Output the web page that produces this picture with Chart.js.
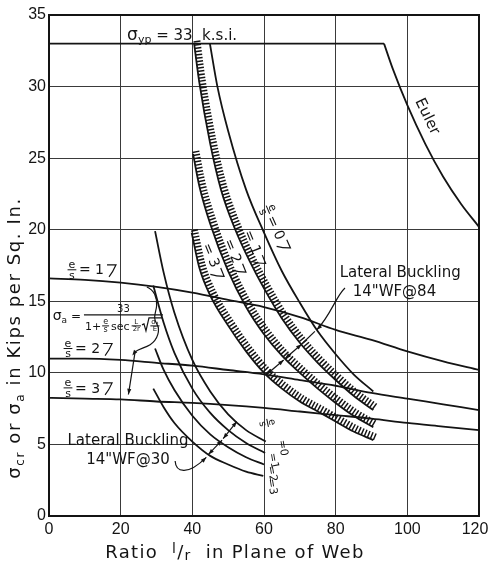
<!DOCTYPE html>
<html>
<head>
  <title>Column strength - σcr or σa vs l/r</title>
  <script src="https://cdn.jsdelivr.net/npm/chart.js"></script>
  <style>
    body { margin: 0; background-color: #fff; }
    canvas { display: block; }
  </style>
</head>
<body>
  <canvas id="colChart" width="488" height="563"></canvas>
  <script>
    // axis ticks
    const xTicks = [0, 20, 40, 60, 80, 100, 120];
    const yTicks = [0, 5, 10, 15, 20, 25, 30, 35];

    // secant formula curves, read at every 10 of l/r
    const slendX = [0, 10, 20, 30, 40, 50, 60, 70, 80, 90, 100, 110, 120];
    const secantE1 = [16.6, 16.5, 16.3, 16.0, 15.6, 15.1, 14.6, 13.9, 13.0, 12.3, 11.5, 10.8, 10.2];
    const secantE2 = [11.0, 11.0, 10.9, 10.7, 10.5, 10.2, 9.9, 9.5, 9.1, 8.6, 8.2, 7.8, 7.4];
    const secantE3 = [8.25, 8.2, 8.15, 8.0, 7.9, 7.75, 7.55, 7.3, 7.05, 6.8, 6.5, 6.25, 6.0];

    // yield stress and Euler curve [l/r, ksi]
    const yieldLine = [[0, 33], [93.5, 33]];
    const euler = [[93.5, 33], [96, 31.2], [100, 28.7], [105, 26.0], [110, 23.7], [115, 21.8], [120, 20.2]];

    // lateral buckling 14" WF @ 84, e/s = 0..3 (1..3 are hatched bands)
    const wf84e0 = [[44.9, 33], [47, 30.0], [50, 26.9], [55, 22.8], [60, 19.8], [65, 17.1], [70, 14.9], [75, 12.9], [80, 11.3], [85, 9.9], [90.5, 8.7]];
    const wf84e1 = [[40.5, 33], [42, 30.2], [45, 26.0], [48, 22.8], [52, 20.0], [56, 17.8], [60, 15.9], [65, 13.8], [70, 12.1], [75, 10.7], [80, 9.5], [85, 8.4], [90.5, 7.4]];
    const wf84e2 = [[40.2, 25.3], [42, 23.0], [45, 20.4], [50, 17.1], [55, 14.6], [60, 12.7], [65, 11.2], [70, 10.0], [75, 8.9], [80, 7.9], [85, 7.0], [90.5, 6.2]];
    const wf84e3 = [[39.8, 19.8], [42, 17.3], [45, 15.4], [50, 13.3], [55, 11.5], [60, 10.0], [65, 8.9], [70, 8.0], [75, 7.3], [80, 6.6], [85, 5.9], [90.5, 5.3]];

    // lateral buckling 14" WF @ 30, e/s = 0..3
    const wf30e0 = [[29.6, 19.9], [32, 17.0], [35, 14.2], [40, 10.9], [45, 8.7], [50, 7.1], [55, 6.0], [60.5, 5.2]];
    const wf30e1 = [[29.1, 16.1], [32, 13.5], [35, 11.4], [40, 8.9], [45, 7.2], [50, 6.0], [55, 5.1], [60.3, 4.4]];
    const wf30e2 = [[29.6, 11.7], [32, 10.2], [35, 8.8], [40, 7.0], [45, 5.7], [50, 4.8], [55, 4.1], [60, 3.6]];
    const wf30e3 = [[29.1, 8.9], [32, 7.6], [35, 6.5], [40, 5.2], [45, 4.2], [50, 3.6], [55, 3.1], [59.8, 2.8]];

    const INK = '#141414';
    const FONT = '"DejaVu Sans", sans-serif';
    const TICK_FONT = '"Liberation Sans", sans-serif';
    const fnt = size => size + 'px ' + FONT;

    const canvas = document.getElementById('colChart');

    const pts = arr => arr.map(([x, y]) => ({ x: x, y: y }));
    function curve(data, extra) {
      return Object.assign({
        data: data,
        showLine: true,
        pointRadius: 0,
        borderColor: INK,
        borderWidth: 1.8,
        cubicInterpolationMode: 'monotone',
        fill: false
      }, extra || {});
    }
    // hatched strip: a wide dashed stroke gives cross-hatching along the curve
    const band = data => curve(data, { borderWidth: 7, borderDash: [1.5, 1.8], borderCapStyle: 'butt', hatch: true });

    const datasets = [
      curve(pts(yieldLine), { cubicInterpolationMode: 'default' }),
      curve(pts(euler)),
      curve(slendX.map((x, i) => ({ x: x, y: secantE1[i] }))),
      curve(slendX.map((x, i) => ({ x: x, y: secantE2[i] }))),
      curve(slendX.map((x, i) => ({ x: x, y: secantE3[i] }))),
      curve(pts(wf84e0)),
      curve(pts(wf84e1)),
      curve(pts(wf84e2)),
      curve(pts(wf84e3)),
      band(pts(wf84e1)),
      band(pts(wf84e2)),
      band(pts(wf84e3)),
      curve(pts(wf30e0)),
      curve(pts(wf30e1)),
      curve(pts(wf30e2)),
      curve(pts(wf30e3))
    ];

    // push the hatched strip to the upper-right side of its edge line
    const shiftPlugin = {
      id: 'shift',
      beforeDatasetDraw(chart, args) {
        if (chart.data.datasets[args.index].hatch) {
          chart.ctx.save();
          chart.ctx.translate(2.8, -2.8);
        }
      },
      afterDatasetDraw(chart, args) {
        if (chart.data.datasets[args.index].hatch) chart.ctx.restore();
      }
    };

    // ---- small drawing helpers ----
    function runs(ctx, x, y, parts) {
      let cx = x;
      for (const [t, s, dy] of parts) {
        ctx.font = fnt(s);
        ctx.fillText(t, cx, y + (dy || 0));
        cx += ctx.measureText(t).width;
      }
      return cx - x;
    }
    function runsWidth(ctx, parts) {
      let w = 0;
      for (const [t, s] of parts) { ctx.font = fnt(s); w += ctx.measureText(t).width; }
      return w;
    }
    function fracWidth(ctx, num, den, size) {
      ctx.font = fnt(size);
      return Math.max(ctx.measureText(num).width, ctx.measureText(den).width) + 2;
    }
    function frac(ctx, num, den, cx, cy, size) {
      const w = fracWidth(ctx, num, den, size);
      ctx.save();
      ctx.font = fnt(size);
      ctx.textAlign = 'center';
      ctx.textBaseline = 'alphabetic';
      ctx.fillText(num, cx, cy - 1.5);
      ctx.fillText(den, cx, cy + size * 0.8);
      ctx.lineWidth = 1;
      ctx.beginPath();
      ctx.moveTo(cx - w / 2, cy);
      ctx.lineTo(cx + w / 2, cy);
      ctx.stroke();
      ctx.restore();
      return w;
    }
    function arrowHead(ctx, x, y, ang, s) {
      ctx.beginPath();
      ctx.moveTo(x, y);
      ctx.lineTo(x - s * Math.cos(ang - 0.35), y - s * Math.sin(ang - 0.35));
      ctx.lineTo(x - s * Math.cos(ang + 0.35), y - s * Math.sin(ang + 0.35));
      ctx.closePath();
      ctx.fill();
    }
    function dimLine(ctx, a, b) {
      ctx.beginPath();
      ctx.moveTo(a[0], a[1]);
      ctx.lineTo(b[0], b[1]);
      ctx.stroke();
      const ang = Math.atan2(b[1] - a[1], b[0] - a[0]);
      arrowHead(ctx, b[0], b[1], ang, 6);
      arrowHead(ctx, a[0], a[1], ang + Math.PI, 6);
    }
    function hook(ctx, x, y) {
      ctx.beginPath();
      ctx.moveTo(x, y - 5);
      ctx.lineTo(x + 9, y - 5);
      ctx.quadraticCurveTo(x + 6, y + 2, x + 2, y + 7);
      ctx.stroke();
    }

    const notes = {
      id: 'notes',
      afterDatasetsDraw(chart) {
        const ctx = chart.ctx;
        const a = chart.chartArea;
        const sx = chart.scales.x, sy = chart.scales.y;
        const P = (u, v) => [sx.getPixelForValue(u), sy.getPixelForValue(v)];
        ctx.save();
        ctx.strokeStyle = INK;
        ctx.fillStyle = INK;
        ctx.lineWidth = 2;
        ctx.strokeRect(a.left, a.top, a.right - a.left, a.bottom - a.top);
        ctx.lineWidth = 1.2;
        ctx.textAlign = 'left';
        ctx.textBaseline = 'alphabetic';

        // yield stress
        let [tx, ty] = P(21.8, 33.25);
        runs(ctx, tx, ty, [['σ', 17, 0], ['yp', 11, 3], [' = 33  k.s.i.', 15, 0]]);

        // Euler
        [tx, ty] = P(105.5, 27.9);
        ctx.save();
        ctx.translate(tx, ty);
        ctx.rotate(64 * Math.PI / 180);
        ctx.font = fnt(15);
        ctx.textAlign = 'center';
        ctx.textBaseline = 'middle';
        ctx.fillText('Euler', 0, 0);
        ctx.restore();

        // e/s labels on the secant curves
        [['1', 6.4, 17.2], ['2', 5.3, 11.7], ['3', 5.3, 8.95]].forEach(([v, u, w]) => {
          const [cx, cy] = P(u, w);
          frac(ctx, 'e', 's', cx, cy, 11);
          ctx.font = fnt(14);
          ctx.textBaseline = 'middle';
          ctx.fillText('= ' + v, cx + 7, cy + 1);
          const tw = ctx.measureText('= ' + v).width;
          ctx.textBaseline = 'alphabetic';
          hook(ctx, cx + 10 + tw, cy);
        });

        // secant formula
        [tx, ty] = P(1.03, 14.05);
        const lw = runs(ctx, tx, ty + 5, [['σ', 14, 0], ['a', 9, 3], [' =', 12, 0]]);
        const x0 = tx + lw + 3;
        let cx = x0 + 1;
        const by = ty + 15;
        ctx.font = fnt(11);
        ctx.fillText('1+', cx, by);
        cx += ctx.measureText('1+').width + 1;
        let fw = fracWidth(ctx, 'e', 's', 8);
        frac(ctx, 'e', 's', cx + fw / 2, by - 4, 8);
        cx += fw + 2;
        ctx.font = fnt(11);
        ctx.fillText('sec', cx, by);
        cx += ctx.measureText('sec').width + 2;
        fw = fracWidth(ctx, 'L', '2r', 7);
        frac(ctx, 'L', '2r', cx + fw / 2, by - 4, 7);
        cx += fw + 1;
        ctx.beginPath();
        ctx.moveTo(cx, by - 5);
        ctx.lineTo(cx + 2, by - 6);
        ctx.lineTo(cx + 4, by + 1);
        ctx.lineTo(cx + 7, by - 12);
        ctx.lineTo(cx + 20, by - 12);
        ctx.stroke();
        frac(ctx, 'σₐ', 'E', cx + 13, by - 4, 7);
        cx += 21;
        ctx.beginPath();
        ctx.moveTo(x0, ty);
        ctx.lineTo(cx, ty);
        ctx.stroke();
        ctx.font = fnt(10);
        ctx.textAlign = 'center';
        ctx.fillText('33', (x0 + cx) / 2, ty - 3);
        ctx.textAlign = 'left';

        // brace from the formula to the three secant curves
        const [bx, bY] = P(27.3, 16.0);
        ctx.beginPath();
        ctx.moveTo(bx, bY);
        ctx.bezierCurveTo(bx + 7.3, bY + 2.7, bx + 10.3, bY + 10.7, bx + 9.8, bY + 18.7);
        ctx.bezierCurveTo(bx + 9.3, bY + 25.7, bx + 5.3, bY + 30.7, bx + 10.3, bY + 37.7);
        ctx.bezierCurveTo(bx + 13.3, bY + 42.7, bx + 11.3, bY + 52.7, bx + 3.3, bY + 57.7);
        ctx.bezierCurveTo(bx - 1.7, bY + 60.7, bx - 6.7, bY + 61.7, bx - 11.7, bY + 64.7);
        ctx.stroke();
        arrowHead(ctx, bx - 14.5, bY + 68.5, Math.atan2(3.8, -2.8), 6);
        ctx.beginPath();
        ctx.moveTo(bx - 11.7, bY + 64.7);
        ctx.lineTo(bx - 18.4, bY + 107.5);
        ctx.stroke();
        arrowHead(ctx, bx - 18.4, bY + 107.5, Math.atan2(42.8, -6.7), 6);

        // Lateral Buckling 14" WF @ 84
        ctx.textAlign = 'center';
        ctx.font = fnt(15);
        [tx, ty] = P(98.0, 16.7);
        ctx.fillText('Lateral Buckling', tx, ty);
        [tx, ty] = P(96.4, 15.37);
        ctx.fillText('14"WF@84', tx, ty);
        const l1 = P(82.6, 15.93), l2 = P(80.1, 15.37), l3 = P(78.6, 14.0), l4 = P(74.7, 13.0);
        ctx.beginPath();
        ctx.moveTo(l1[0], l1[1]);
        ctx.bezierCurveTo(l2[0], l2[1], l3[0], l3[1], l4[0], l4[1]);
        ctx.stroke();
        arrowHead(ctx, l4[0], l4[1], Math.atan2(l4[1] - l3[1], l4[0] - l3[0]), 6);
        dimLine(ctx, P(70.5, 12.0), P(65.9, 11.0));
        dimLine(ctx, P(65.5, 10.9), P(60.8, 9.9));
        ctx.beginPath();
        let q1 = P(74.2, 12.9), q2 = P(70.9, 12.1);
        ctx.moveTo(q1[0], q1[1]); ctx.lineTo(q2[0], q2[1]); ctx.stroke();

        // Lateral Buckling 14" WF @ 30
        [tx, ty] = P(22.05, 4.96);
        ctx.fillText('Lateral Buckling', tx, ty);
        [tx, ty] = P(22.05, 3.63);
        ctx.fillText('14"WF@30', tx, ty);
        const m1 = P(35.2, 3.84), m2 = P(35.4, 3.0), m3 = P(38.8, 2.85), m4 = P(43.9, 4.1);
        ctx.beginPath();
        ctx.moveTo(m1[0], m1[1]);
        ctx.bezierCurveTo(m2[0], m2[1], m3[0], m3[1], m4[0], m4[1]);
        ctx.stroke();
        arrowHead(ctx, m4[0], m4[1], Math.atan2(m4[1] - m3[1], m4[0] - m3[0]), 6);
        dimLine(ctx, P(44.5, 4.3), P(48.3, 5.3));
        dimLine(ctx, P(48.6, 5.4), P(52.4, 6.6));

        // e/s labels along the WF@84 curves
        const rotText = (u, w, deg, draw) => {
          const [px, py] = P(u, w);
          ctx.save();
          ctx.translate(px, py);
          ctx.rotate(deg * Math.PI / 180);
          draw();
          ctx.restore();
        };
        rotText(61.1, 21.4, 66, () => {
          frac(ctx, 'e', 's', 0, 0, 11);
          ctx.font = fnt(14);
          ctx.textAlign = 'left';
          ctx.textBaseline = 'middle';
          ctx.fillText('= 0', 7, 1);
          hook(ctx, 10 + ctx.measureText('= 0').width, 0);
        });
        [['1', 56.6, 19.1], ['2', 51.1, 18.5], ['3', 45.0, 18.2]].forEach(([v, u, w]) => {
          rotText(u, w, 68, () => {
            ctx.font = fnt(14);
            ctx.textAlign = 'center';
            ctx.textBaseline = 'middle';
            ctx.fillText('= ' + v, 0, 0);
            hook(ctx, ctx.measureText('= ' + v).width / 2 + 3, 0);
          });
        });

        // e/s labels at the ends of the WF@30 curves
        rotText(61.0, 6.5, 78, () => { frac(ctx, 'e', 's', 0, 0, 10); });
        [['0', 65.2, 4.75], ['1', 62.6, 3.85], ['2', 62.2, 2.95], ['3', 62.2, 2.05]].forEach(([v, u, w]) => {
          rotText(u, w, 80, () => {
            ctx.font = fnt(11);
            ctx.textAlign = 'center';
            ctx.textBaseline = 'middle';
            ctx.fillText('=' + v, 0, 0);
          });
        });

        // axis titles
        ctx.textAlign = 'left';
        ctx.textBaseline = 'alphabetic';
        ctx.letterSpacing = '1.3px';
        const xParts = [['Ratio  ', 18, 0], ['l', 14, -5], ['/', 18, 0], ['r', 14, 2], ['  in Plane of Web', 18, 0]];
        const xw = runsWidth(ctx, xParts);
        runs(ctx, 235 - xw / 2, 558, xParts);

        ctx.letterSpacing = '1.6px';
        const yParts = [['σ', 18, 0], ['cr', 12, 4], [' or σ', 18, 0], ['a', 12, 4], [' in Kips per Sq. In.', 18, 0]];
        const yw = runsWidth(ctx, yParts);
        ctx.save();
        ctx.translate(14, 338);
        ctx.rotate(-Math.PI / 2);
        runs(ctx, -yw / 2, 6, yParts);
        ctx.restore();
        ctx.letterSpacing = '0px';

        ctx.restore();
      }
    };

    new Chart(canvas, {
      type: 'scatter',
      data: { datasets: datasets },
      options: {
        responsive: false,
        animation: false,
        devicePixelRatio: 1,
        events: [],
        layout: { padding: { top: 15, right: 9, left: 0, bottom: 0 } },
        plugins: {
          legend: { display: false },
          tooltip: { enabled: false }
        },
        scales: {
          x: {
            type: 'linear',
            min: 0,
            max: 120,
            afterBuildTicks: s => { s.ticks = xTicks.map(v => ({ value: v })); },
            afterFit: s => { s.height = 47; s.paddingLeft = 0; s.paddingRight = 0; },
            ticks: {
              color: INK,
              font: { family: TICK_FONT, size: 16 },
              padding: 4,
              maxRotation: 0,
              autoSkip: false,
              // the last label sits a little inside the right edge
              callback: v => (v === 120 ? '120\u2002' : String(v))
            },
            grid: { color: '#3a3a3a', lineWidth: 1, drawTicks: false },
            border: { display: false }
          },
          y: {
            type: 'linear',
            min: 0,
            max: 35,
            afterBuildTicks: s => { s.ticks = yTicks.map(v => ({ value: v })); },
            afterFit: s => { s.width = 49; s.paddingTop = 0; s.paddingBottom = 0; },
            ticks: { color: INK, font: { family: TICK_FONT, size: 16 }, padding: 3, autoSkip: false },
            grid: { color: '#3a3a3a', lineWidth: 1, drawTicks: false },
            border: { display: false }
          }
        }
      },
      plugins: [shiftPlugin, notes]
    });
  </script>
</body>
</html>
